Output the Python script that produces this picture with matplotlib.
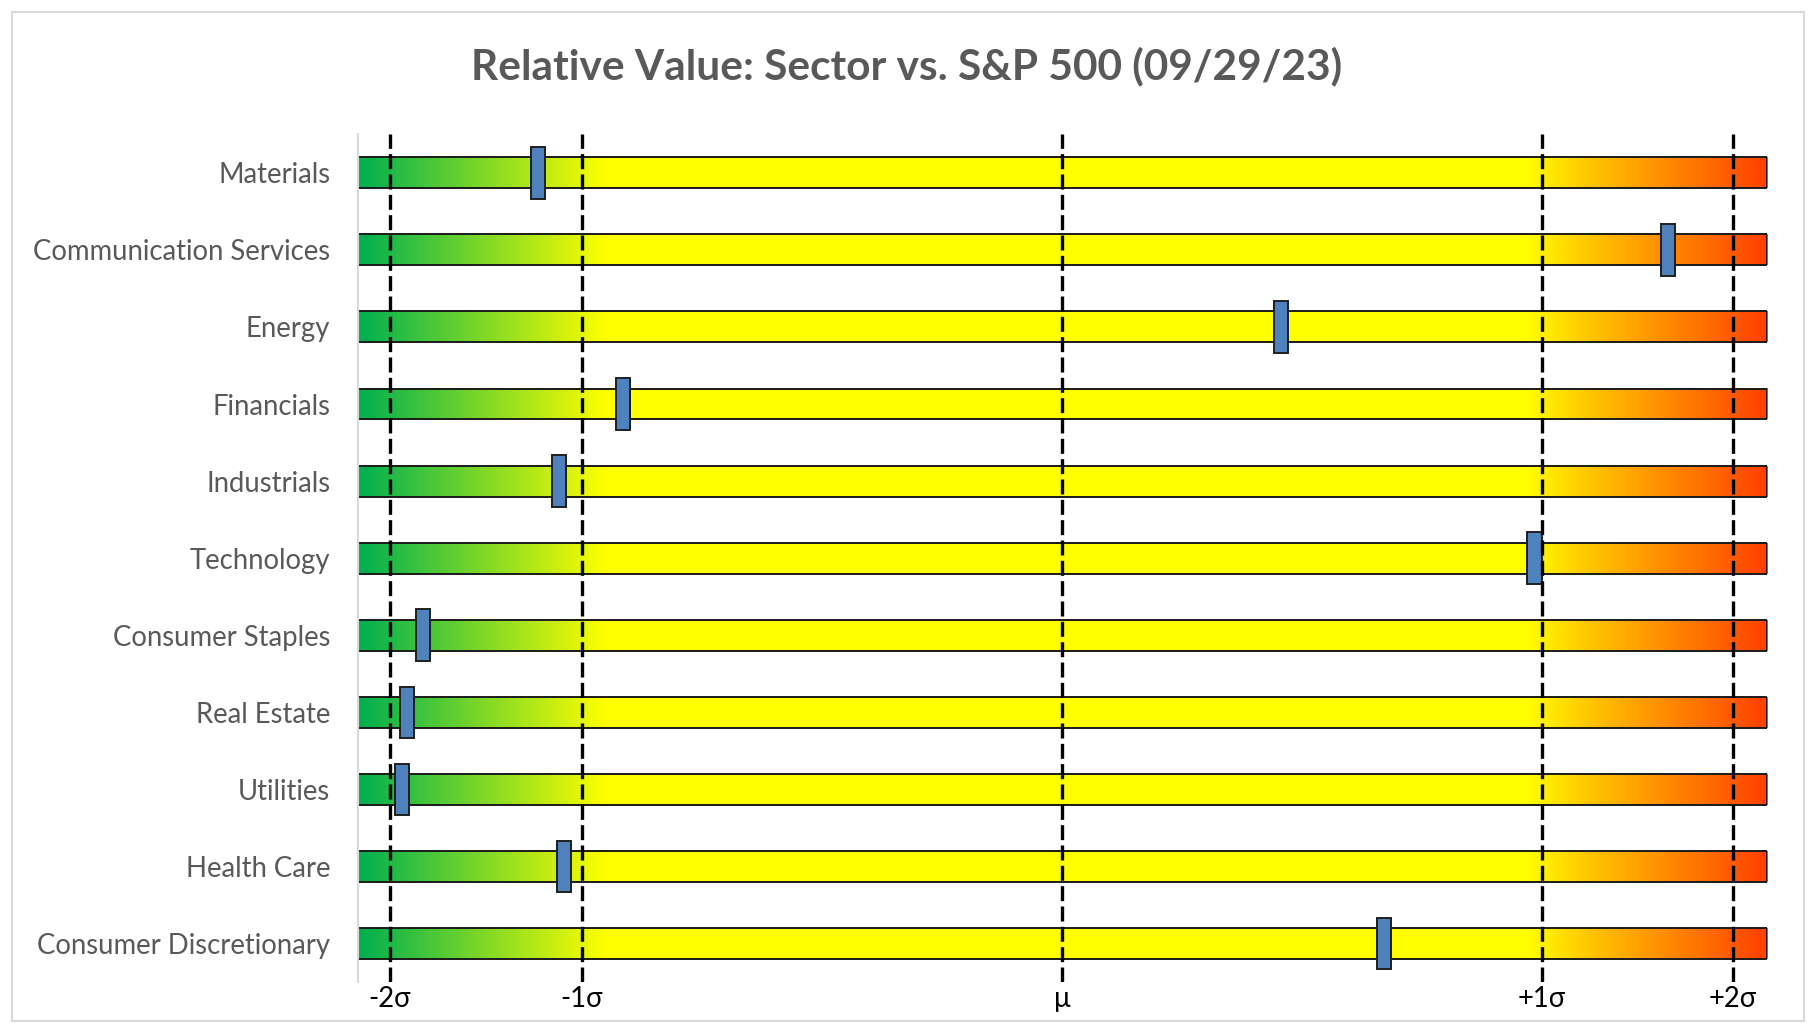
import matplotlib.pyplot as plt
import matplotlib.patches as mpatches
from matplotlib.colors import LinearSegmentedColormap
import numpy as np

plt.rcParams['font.family'] = ['Lato', 'DejaVu Sans']

# sectors, top to bottom
sectors = ['Materials', 'Communication Services', 'Energy', 'Financials',
           'Industrials', 'Technology', 'Consumer Staples', 'Real Estate',
           'Utilities', 'Health Care', 'Consumer Discretionary']
# position of each sector (percentile of its relative-value history)
percentile = [12.8, 93.0, 65.5, 18.8, 14.25, 83.5, 4.6, 3.5, 3.15, 14.6, 72.8]

# sigma lines, placed on the percentile scale
sigma_labels = ['-2σ', '-1σ', 'μ', '+1σ', '+2σ']
sigma_pos = [2.28, 15.87, 50.0, 84.0, 97.6]

title = 'Relative Value: Sector vs. S&P 500 (09/29/23)'

# gradient for the bars: green -> yellow -> orange/red
cmap = LinearSegmentedColormap.from_list('rv', [
    (0.0, '#00B050'), (0.175, '#FFFF00'), (0.83, '#FFFF00'),
    (0.88, '#FFC000'), (1.0, '#FF4000')])

fig = plt.figure(figsize=(18.16, 10.33), dpi=100)
fig.patches.append(mpatches.Rectangle((0.0066, 0.0116), 0.9868, 0.9768,
                                      transform=fig.transFigure, fill=False,
                                      edgecolor='#D9D9D9', lw=1.5))
ax = fig.add_axes([0.1971, 0.0492, 0.7759, 0.8209])

rows = np.arange(len(sectors))
bar_h = 0.40
grad = np.linspace(0, 1, 512).reshape(1, -1)
for y in rows:
    ax.imshow(grad, cmap=cmap, aspect='auto', extent=[0, 100, y + bar_h / 2, y - bar_h / 2],
              interpolation='bilinear', zorder=1)
ax.barh(rows, 100, left=0, height=bar_h, color='none', edgecolor='#1a1a1a', lw=1.4, zorder=2)

# markers
mk_w = 1.0
ax.barh(rows, mk_w, left=np.array(percentile) - mk_w / 2, height=0.67,
        color='#4F81BD', edgecolor='#1f1f1f', lw=1.4, zorder=3)

for x in sigma_pos:
    ax.axvline(x, color='black', lw=2.4, dashes=(4.5, 1.6), zorder=4)

ax.set_xlim(0, 100)
ax.set_ylim(10.5, -0.5)
ax.set_yticks(rows)
ax.set_yticklabels(sectors, fontsize=19.8, color='#595959')
ax.set_xticks(sigma_pos)
ax.set_xticklabels(sigma_labels, fontsize=19.8, color='black')
ax.tick_params(axis='y', length=0, pad=20)
ax.tick_params(axis='x', length=0, pad=3)
for s in ['top', 'right', 'bottom']:
    ax.spines[s].set_visible(False)
ax.spines['left'].set_color('#D9D9D9')
ax.spines['left'].set_linewidth(1.5)

fig.text(0.499, 0.936, title, ha='center', va='center', fontsize=30.5,
         fontweight='bold', color='#595959')

plt.savefig('out.png', dpi=100)
